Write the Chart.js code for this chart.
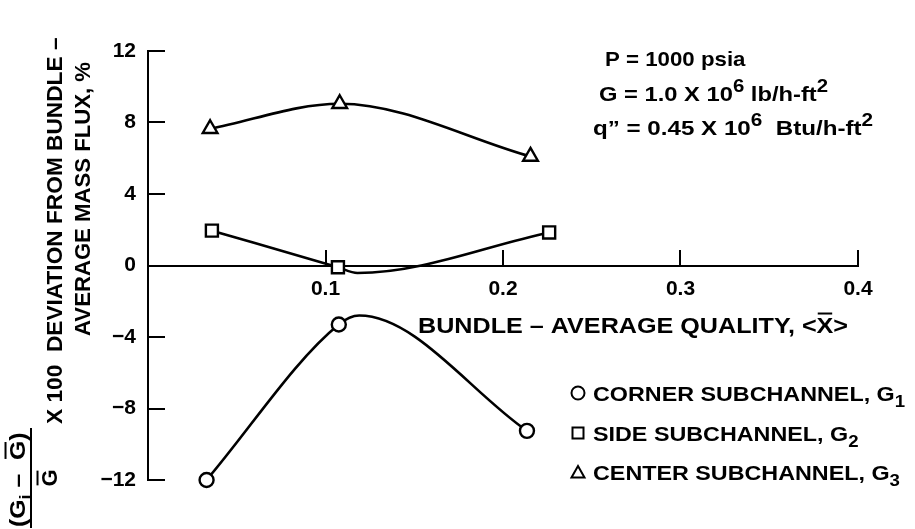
<!DOCTYPE html>
<html>
<head>
<meta charset="utf-8">
<script src="https://cdn.jsdelivr.net/npm/chart.js@4.4.1/dist/chart.umd.min.js"></script>
<style>
  html, body { margin: 0; padding: 0; background: #fff; }
  #wrap { width: 915px; height: 529px; position: relative; }
</style>
</head>
<body>
<div id="wrap"><canvas id="c" width="915" height="529"></canvas></div>
<script>
// Measured subchannel mass-flux deviations vs bundle-average quality
const cornerX = [0.033, 0.1075, 0.2135];
const cornerY = [-12.0, -3.3, -9.25];
const sideX   = [0.036, 0.107, 0.226];
const sideY   = [1.95, -0.1, 1.85];
const centerX = [0.035, 0.108, 0.2155];
const centerY = [7.65, 9.05, 6.1];

// Faired curves: the measured points plus the turning point of each curve
const cornerCurveX = [0.033, 0.1075, 0.119, 0.2135];
const cornerCurveY = [-12.0, -3.3, -2.8, -9.25];
const sideCurveX   = [0.036, 0.107, 0.118, 0.226];
const sideCurveY   = [1.95, -0.1, -0.42, 1.85];
const centerCurveX = [0.035, 0.108, 0.2155];
const centerCurveY = [7.65, 9.05, 6.1];

// Axis ticks
const xTickValues = [0.1, 0.2, 0.3, 0.4];
const xTickLabels = ['0.1', '0.2', '0.3', '0.4'];
const yTickValues = [-12, -8, -4, 0, 4, 8, 12];
const yTickLabels = ['\u221212', '\u22128', '\u22124', '0', '4', '8', '12'];

const FONT = '"Liberation Sans", Arial, Helvetica, sans-serif';
const INK = '#000';

const pts = (xs, ys) => xs.map((x, i) => ({ x, y: ys[i] }));

function curve(xs, ys) {
  return {
    data: pts(xs, ys),
    showLine: true,
    borderColor: INK,
    borderWidth: 2.6,
    pointRadius: 0,
    cubicInterpolationMode: 'monotone',
    clip: false,
    order: 1
  };
}
function markers(xs, ys, style, r) {
  return {
    data: pts(xs, ys),
    showLine: false,
    pointStyle: style,
    pointRadius: r,
    pointBackgroundColor: '#fff',
    pointBorderColor: INK,
    pointBorderWidth: 2.4,
    clip: false,
    order: 0
  };
}

// Draw a run of text pieces (normal / superscript / subscript / overbar),
// optionally stretched horizontally by hs
function drawRuns(ctx, runs, x, y, size, hs = 1, supScale = 0.74) {
  ctx.save();
  ctx.translate(x, y);
  ctx.scale(hs, 1);
  let cx = 0;
  for (const r of runs) {
    let s = size, dy = 0;
    if (r.sup) { s = size * supScale; dy = -size * 0.42; }
    if (r.sub) { s = size * supScale; dy = size * 0.3; }
    ctx.font = 'bold ' + s + 'px ' + FONT;
    ctx.fillText(r.t, cx, dy);
    const w = ctx.measureText(r.t).width;
    if (r.bar) {
      ctx.fillRect(cx + 1, dy - s * 0.72 - 5, w - 2, 2);
    }
    cx += w;
  }
  ctx.restore();
  return cx * hs;
}
function runsWidth(ctx, runs, size, hs = 1, supScale = 0.74) {
  let w = 0;
  for (const r of runs) {
    const s = (r.sup || r.sub) ? size * supScale : size;
    ctx.font = 'bold ' + s + 'px ' + FONT;
    w += ctx.measureText(r.t).width;
  }
  return w * hs;
}

const annotations = {
  id: 'annotations',
  afterDraw(chart) {
    const ctx = chart.ctx;
    const a = chart.chartArea;
    ctx.save();
    ctx.fillStyle = INK;
    ctx.strokeStyle = INK;
    ctx.textAlign = 'left';
    ctx.textBaseline = 'alphabetic';

    // Test conditions
    const S = 21;
    drawRuns(ctx, [{ t: 'P = 1000 psia' }], a.left + 457, a.top + 15, S, 1.06);
    drawRuns(ctx, [{ t: 'G = 1.0 X 10' }, { t: '6', sup: true }, { t: ' lb/h-ft' }, { t: '2', sup: true }], a.left + 451, a.top + 50, S, 1.13, 0.86);
    drawRuns(ctx, [{ t: 'q\u201D = 0.45 X 10' }, { t: '6', sup: true }, { t: '  Btu/h-ft' }, { t: '2', sup: true }], a.left + 445, a.top + 84, S, 1.15, 0.86);

    // x-axis title, sitting just under the zero line
    drawRuns(ctx, [{ t: 'BUNDLE \u2013 AVERAGE QUALITY, <' }, { t: 'X', bar: true }, { t: '>' }], a.left + 270, a.top + 282, 21.5, 1.17);

    // Legend
    const rows = [
      { style: 'circle', runs: [{ t: 'CORNER SUBCHANNEL, G' }, { t: '1', sub: true }] },
      { style: 'rect', runs: [{ t: 'SIDE SUBCHANNEL, G' }, { t: '2', sub: true }] },
      { style: 'triangle', runs: [{ t: 'CENTER SUBCHANNEL, G' }, { t: '3', sub: true }] }
    ];
    const lx = a.left + 430, ly0 = a.top + 342, lstep = 39.5;
    rows.forEach((row, i) => {
      const cy = ly0 + i * lstep;
      ctx.lineWidth = 2;
      ctx.beginPath();
      if (row.style === 'circle') {
        ctx.arc(lx, cy, 6.5, 0, Math.PI * 2);
      } else if (row.style === 'rect') {
        ctx.rect(lx - 5.5, cy - 5, 11, 11);
      } else {
        ctx.moveTo(lx, cy - 6);
        ctx.lineTo(lx + 6.5, cy + 5.5);
        ctx.lineTo(lx - 6.5, cy + 5.5);
        ctx.closePath();
      }
      ctx.stroke();
      drawRuns(ctx, row.runs, lx + 15, cy + 8, 21, 1.11, 0.8);
    });

    // y-axis title: (Gi - G)/G x 100 deviation ..., rotated
    const YS = 21.5;
    ctx.save();
    ctx.translate(62, 424);
    ctx.rotate(-Math.PI / 2);
    drawRuns(ctx, [{ t: 'X 100  DEVIATION FROM BUNDLE \u2013' }], 0, 0, YS, 1.055);
    ctx.restore();

    ctx.save();
    ctx.translate(90, 199);
    ctx.rotate(-Math.PI / 2);
    const l2 = [{ t: 'AVERAGE MASS FLUX, %' }];
    drawRuns(ctx, l2, -runsWidth(ctx, l2, YS, 1.03) / 2, 0, YS, 1.03);
    ctx.restore();

    // numerator
    ctx.save();
    ctx.translate(25, 527);
    ctx.rotate(-Math.PI / 2);
    const num = [{ t: '(G' }, { t: 'i', sub: true }, { t: ' \u2013  ' }, { t: 'G', bar: true }, { t: ')' }];
    drawRuns(ctx, num, 0, 0, YS, 1.15);
    ctx.restore();
    // fraction bar
    ctx.fillRect(30, 428, 2, 100);
    // denominator
    ctx.save();
    ctx.translate(57, 478);
    ctx.rotate(-Math.PI / 2);
    const den = [{ t: 'G', bar: true }];
    drawRuns(ctx, den, -runsWidth(ctx, den, YS) / 2, 0, YS);
    ctx.restore();

    ctx.restore();
  }
};

new Chart(document.getElementById('c'), {
  type: 'scatter',
  data: {
    datasets: [
      markers(cornerX, cornerY, 'circle', 7),
      markers(sideX, sideY, 'rect', 8.5),
      markers(centerX, centerY, 'triangle', 8.5),
      curve(cornerCurveX, cornerCurveY),
      curve(sideCurveX, sideCurveY),
      curve(centerCurveX, centerCurveY)
    ]
  },
  options: {
    responsive: false,
    animation: false,
    events: [],
    layout: { padding: { top: 51, right: 57, bottom: 49, left: 0 } },
    plugins: { legend: { display: false }, tooltip: { enabled: false } },
    scales: {
      x: {
        type: 'linear',
        min: 0, max: 0.4,
        position: { y: 0 },
        afterFit(scale) { scale.height = 0; },
        afterBuildTicks(scale) { scale.ticks = xTickValues.map(v => ({ value: v })); },
        grid: { drawOnChartArea: false, drawTicks: true, tickLength: -17, color: INK, lineWidth: 2 },
        border: { display: true, color: INK, width: 2 },
        ticks: {
          padding: 28,
          color: INK,
          font: { family: FONT, size: 21, weight: 'bold' },
          callback: (v) => xTickLabels[xTickValues.findIndex(t => Math.abs(t - v) < 1e-9)]
        }
      },
      y: {
        type: 'linear',
        min: -12, max: 12,
        position: 'left',
        afterFit(scale) { scale.width = 148; },
        afterBuildTicks(scale) { scale.ticks = yTickValues.map(v => ({ value: v })); },
        grid: { drawOnChartArea: false, drawTicks: true, tickLength: -17, color: INK, lineWidth: 2 },
        border: { display: true, color: INK, width: 2 },
        ticks: {
          padding: 29,
          color: INK,
          font: { family: FONT, size: 21, weight: 'bold' },
          callback: (v) => yTickLabels[yTickValues.indexOf(v)]
        }
      }
    }
  },
  plugins: [annotations]
});
</script>
</body>
</html>
